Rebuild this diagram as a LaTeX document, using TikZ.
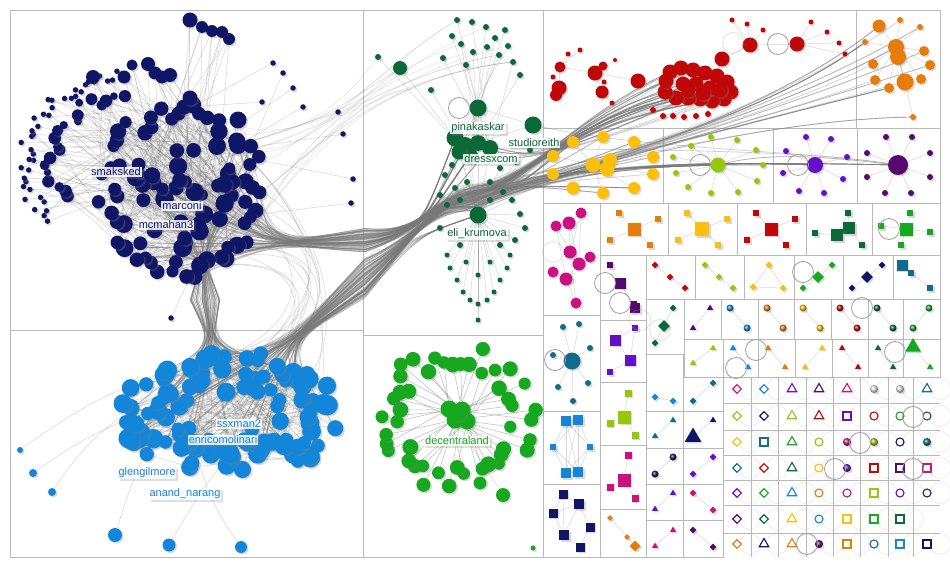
\documentclass[tikz,border=0pt]{standalone}
\usepackage{fontspec}
\setsansfont{Liberation Sans}
\usetikzlibrary{shapes.geometric,shadows}

\definecolor{cnavy}{RGB}{16,22,102}
\definecolor{cblue}{RGB}{20,134,218}
\definecolor{cdkgreen}{RGB}{10,105,55}
\definecolor{cgreen}{RGB}{22,168,30}
\definecolor{cred}{RGB}{192,8,8}
\definecolor{corange}{RGB}{230,125,10}
\definecolor{cyellow}{RGB}{252,192,12}
\definecolor{clime}{RGB}{150,200,10}
\definecolor{cpurple}{RGB}{100,16,200}
\definecolor{cdkpurple}{RGB}{86,8,110}
\definecolor{cmagenta}{RGB}{204,16,130}
\definecolor{cteal}{RGB}{16,108,138}
\definecolor{cedge}{RGB}{120,120,120}

\pgfdeclarelayer{back}
\pgfdeclarelayer{lines}
\pgfsetlayers{back,lines,main}

\tikzset{
  shd/.style={drop shadow={shadow xshift=1.5pt,shadow yshift=-1.5pt,opacity=0.3}},
  dot/.style={circle,fill=#1,inner sep=0pt,shd},
  sqr/.style={rectangle,fill=#1,inner sep=0pt,shd},
  dia/.style={diamond,fill=#1,inner sep=0pt,shd},
  tri/.style={regular polygon,regular polygon sides=3,fill=#1,inner sep=0pt,shd},
  sph/.style={circle,ball color=#1,inner sep=0pt,minimum size=8pt,shd},
  odia/.style={diamond,draw=#1,fill=white,line width=1.1pt,inner sep=0pt,minimum size=9pt},
  otri/.style={regular polygon,regular polygon sides=3,draw=#1,fill=white,line width=1.1pt,inner sep=0pt,minimum size=11pt},
  ocir/.style={circle,draw=#1,fill=white,line width=1.1pt,inner sep=0pt,minimum size=8pt},
  osq/.style={rectangle,draw=#1,fill=white,line width=1.1pt,inner sep=0pt,minimum size=8pt},
  lnk/.style={draw=cedge,opacity=0.3,line width=0.5pt},
  bnd/.style={draw=cedge,opacity=0.35,line width=0.7pt},
  selfloop/.style={circle,draw=gray!75,line width=0.8pt,inner sep=0pt,minimum size=21pt},
  panel/.style={draw=gray!55,line width=0.8pt},
  lbl/.style={text=#1,fill=white,fill opacity=0.85,text opacity=1,inner sep=1pt,
    font=\sffamily\fontsize{11}{12}\selectfont,
    drop shadow={shadow xshift=2pt,shadow yshift=-2pt,opacity=0.25}},
}

\begin{document}
\begin{tikzpicture}[x=1pt,y=-1pt]
\useasboundingbox (0,0) rectangle (950,567);
\pgfmathsetseed{31}

\begin{pgfonlayer}{back}
\fill[white] (0,0) rectangle (950,567);
\foreach \xa/\ya/\xb/\yb in {10/10/363/330,10/330/363/557,363/10/543/335,363/335/543/557,
  543/10/856/128,856/10/940/128,543/128/663/203,663/128/773/203,773/128/857/203,857/128/940/203,
  543/203/600/315,600/203/668/255,668/203/737/255,737/203/806/255,806/203/872/255,872/203/940/255,
  600/255/646/320,646/255/695/299,695/255/744/299,744/255/794/299,794/255/843/299,843/255/893/299,893/255/940/299,
  646/299/684/354,684/299/721/339,721/299/758/339,758/299/794/339,794/299/831/339,831/299/868/339,868/299/903/339,903/299/940/339,
  684/339/723/377,723/339/758/377,758/339/795/377,795/339/832/377,832/339/868/377,868/339/903/377,903/339/940/377,
  543/315/600/411,543/411/600/484,543/484/600/557,600/320/646/382,600/382/646/445,600/445/646/509,600/509/646/557,
  646/354/683/411,646/411/683/448,646/448/683/484,646/484/683/520,646/520/683/557,
  683/377/723/411,683/411/723/448,683/448/723/484,683/484/723/520,683/520/723/557}
  \draw[panel] (\xa,\ya) rectangle (\xb,\yb);
\foreach \xx in {751,778,806,833,860,888,913}
  \draw[panel] (\xx,377) -- (\xx,557);
\foreach \yy in {403,430,455,480,505,533}
  \draw[panel] (723,\yy) -- (940,\yy);
\end{pgfonlayer}

% navy group
\foreach \i in {1,...,56}{
  \pgfmathsetmacro\ang{\i/56*360+6*rnd}
  \pgfmathsetmacro\rr{0.8+0.28*rnd}
  \pgfmathsetmacro\sz{12+6*rnd}
  \node[dot=cnavy,minimum size=\sz] (a\i) at ({182+80*\rr*cos(\ang)},{190+86*\rr*sin(\ang)}) {};
}
\foreach \i in {57,...,90}{
  \pgfmathsetmacro\ang{360*rnd}
  \pgfmathsetmacro\rr{0.68*sqrt(rnd)}
  \pgfmathsetmacro\sz{11+8*rnd}
  \node[dot=cnavy,minimum size=\sz] (a\i) at ({182+80*\rr*cos(\ang)},{190+86*\rr*sin(\ang)}) {};
}
\foreach \i in {1,...,40}{
  \pgfmathsetmacro\ang{140+\i*115/40+3*rnd}
  \pgfmathsetmacro\rr{0.88+0.14*rnd}
  \node[dot=cnavy,minimum size=5.5] (o\i) at ({145+125*\rr*cos(\ang)},{165+100*\rr*sin(\ang)}) {};
}
\foreach \i in {1,...,20}{
  \pgfmathsetmacro\ang{145+\i*110/20+4*rnd}
  \pgfmathsetmacro\rr{0.68+0.14*rnd}
  \pgfmathsetmacro\sz{7+6*rnd}
  \node[dot=cnavy,minimum size=\sz] (m\i) at ({145+125*\rr*cos(\ang)},{165+100*\rr*sin(\ang)}) {};
}
\foreach \px/\py/\sz [count=\k] in {190/20/15,202/27/12,212/31/12,222/32/12,229/39/12,148/64/14,155/73/13,
  162/77/13,170/75/14,132/65/11,124/77/13,93/77/14,190/98/15}
  \node[dot=cnavy,minimum size=\sz] (tp\k) at (\px,\py) {};
\foreach \px/\py [count=\k] in {273/63,283/73,293/88,303/107,262/102,338/112,343/134,353/179,351/203,171/318}
  \node[dot=cnavy,minimum size=5.5] (rs\k) at (\px,\py) {};

% blue group
\foreach \i in {1,...,125}{
  \pgfmathsetmacro\ang{360*rnd}
  \pgfmathsetmacro\rr{0.25+0.75*sqrt(rnd)}
  \pgfmathsetmacro\sz{13+7*rnd}
  \node[dot=cblue,minimum size=\sz] (b\i) at ({232+113*\rr*cos(\ang)},{414+63*\rr*sin(\ang)}) {};
}
\foreach \px/\py/\sz [count=\k] in {115/535/14,169/545/13,241/547/12,52/492/8,33/473/8,20/450/6}
  \node[dot=cblue,minimum size=\sz] (bx\k) at (\px,\py) {};

% dark green group
\foreach \px/\py [count=\k] in {457/20,472/22,486/27,452/36,461/44,473/52,487/47,499/55,508/46,513/62,
  378/57,431/90,520/75,466/65,495/38,443/58,505/30}
  \node[dot=cdkgreen,minimum size=6] (dt\k) at (\px,\py) {};
\foreach \px/\py/\sz [count=\k] in {478/108/17,455/138/17,465/146/18,478/143/16,490/148/16,470/156/16,
  459/152/15,533/125/17,400/68/14}
  \node[dot=cdkgreen,minimum size=\sz] (dc\k) at (\px,\py) {};
\node[dot=cdkgreen,minimum size=17] (e0) at (478,215) {};
\foreach \px/\py [count=\k] in {445/175,455/188,467/182,490/182,503/192,512/200,520/214,447/205,440/228,
  460/245,500/245,515/240,530/150,516/162,500/168,452/165,440/195,525/228,490/200,460/200}
  \node[dot=cdkgreen,minimum size=6] (de\k) at (\px,\py) {};
\foreach \px/\py [count=\k] in {450/268,457/280,463/292,470/300,478/304,487/300,494/292,500/280,507/268,
  447/255,510/255,478/275,466/262,490/262,478/320}
  \node[dot=cdkgreen,minimum size=5] (db\k) at (\px,\py) {};

% green group
\foreach \px/\py [count=\k] in {449/409,462/410,455/420,467/421,458/413}
  \node[dot=cgreen,minimum size=17] (g\k) at (\px,\py) {};
\foreach \i in {1,...,46}{
  \pgfmathsetmacro\ang{\i/46*360+4*rnd}
  \pgfmathsetmacro\rr{0.68+0.36*rnd}
  \pgfmathsetmacro\sz{12+4*rnd}
  \node[dot=cgreen,minimum size=\sz] (gr\i) at ({455+80*\rr*cos(\ang)},{418+72*\rr*sin(\ang)}) {};
}
\node[dot=cgreen,minimum size=14] (gx1) at (503,495) {};
\node[dot=cgreen,minimum size=5] (gx2) at (533,548) {};

% red group
\foreach \px/\py [count=\k] in {670/72,681/68,693/70,705/73,717/76,727/82,731/92,724/99,712/101,700/99,
  688/98,676/98,665/92,666/81,683/84,696/84,710/88,720/90,688/90,703/93}
  \node[dot=cred,minimum size=15] (r\k) at (\px,\py) {};
\foreach \px/\py [count=\k] in {653/110,663/116,673/116,684/117,696/116,708/114}
  \node[dot=cred,minimum size=6] (rb\k) at (\px,\py) {};
\node[dot=cred,minimum size=15] (r0) at (722,59) {};
\foreach \px/\py/\sz [count=\k] in {560/67/11,559/88/15,556/95/12,553/77/5,568/54/5,580/50/5,595/73/15,
  603/66/9,604/82/5,602/92/13,612/103/5,638/81/15,615/60/4}
  \node[dot=cred,minimum size=\sz] (rl\k) at (\px,\py) {};
\foreach \px/\py/\sz [count=\k] in {750/45/15,797/44/15,732/20/5,747/24/5,763/30/5,811/22/5,827/32/5,839/43/5,845/54/5}
  \node[dot=cred,minimum size=\sz] (rt\k) at (\px,\py) {};

% orange group
\foreach \px/\py/\sz [count=\k] in {896/47/16,898/57/16,879/26/13,900/20/6,920/27/6,865/42/6,924/51/10,
  930/65/10,873/64/10,875/80/10,905/82/17,921/79/10,889/88/10,913/117/6}
  \node[dot=corange,minimum size=\sz] (or\k) at (\px,\py) {};

% yellow group
\foreach \px/\py/\sz [count=\k] in {593/165/15,610/160/14,607/169/15,573/142/12,603/137/12,634/142/12,
  553/156/12,653/157/12,653/174/12,553/174/12,573/188/13,603/193/12,634/188/12}
  \node[dot=cyellow,minimum size=\sz] (y\k) at (\px,\py) {};

% lime, purple, dark purple stars
\node[dot=clime,minimum size=15] (l0) at (718,165) {};
\foreach \px/\py [count=\k] in {711/137,737/140,691/146,756/150,673/157,763/165,676/173,757/181,688/187,711/193,738/192}
  \node[dot=clime,minimum size=6] (l\k) at (\px,\py) {};
\node[dot=cpurple,minimum size=16] (p0) at (815,165) {};
\foreach \px/\py [count=\k] in {806/137,831/139,786/151,847/157,783/173,843/179,799/191,824/193}
  \node[dot=cpurple,minimum size=6] (p\k) at (\px,\py) {};
\node[dot=cdkpurple,minimum size=20] (q0) at (898,165) {};
\foreach \px/\py [count=\k] in {886/137,912/137,867/153,930/153,867/177,930/177,885/193,911/193}
  \node[dot=cdkpurple,minimum size=6] (q\k) at (\px,\py) {};

% small groups
\foreach \st/\cl/\px/\py/\sz [count=\k] in {
  sqr/corange/634/229/13,sqr/corange/619/213/6,sqr/corange/658/219/6,sqr/corange/610/240/6,sqr/corange/650/245/6,
  sqr/cyellow/702/229/14,sqr/cyellow/687/213/6,sqr/cyellow/727/219/6,sqr/cyellow/678/240/6,sqr/cyellow/718/245/6,
  sqr/cred/771/229/13,sqr/cred/756/213/6,sqr/cred/795/219/6,sqr/cred/747/240/6,sqr/cred/786/245/6,
  sqr/cdkgreen/848/213/6,sqr/cdkgreen/849/228/12,sqr/cdkgreen/837/235/12,sqr/cdkgreen/815/233/6,sqr/cdkgreen/862/245/6,
  sqr/cgreen/906/229/13,sqr/cgreen/910/213/6,sqr/cgreen/881/226/6,sqr/cgreen/930/232/6,sqr/cgreen/901/245/6,
  sqr/cdkpurple/610/265/6,sqr/cdkpurple/620/283/11,sqr/cdkpurple/633/304/7,sqr/cdkpurple/635/308/10,
  dia/cred/655/265/7,dia/cred/670/277/7,dia/cred/685/288/7,
  dia/clime/705/265/7,dia/clime/719/277/7,dia/clime/733/288/7,
  dia/cyellow/769/265/7,dia/cyellow/753/287/7,dia/cyellow/783/288/7,
  dia/cgreen/818/277/12,dia/cgreen/832/265/7,dia/cgreen/803/288/7,
  dia/cnavy/867/277/12,dia/cnavy/882/265/7,dia/cnavy/852/288/7,
  sqr/cteal/902/265/11,sqr/cteal/911/273/6,sqr/cteal/930/288/6,
  dia/cdkgreen/664/326/12,dia/cdkgreen/673/308/7,dia/cdkgreen/655/343/7,
  tri/cgreen/913/347/18,tri/cgreen/930/367/7,
  tri/cnavy/693/437/19,tri/cnavy/713/420/7,
  dia/corange/635/546/11,dia/corange/610/518/6,dia/corange/627/537/6,
  sqr/cpurple/635/328/6,sqr/cpurple/615/340/11,sqr/cpurple/630/360/11,sqr/cpurple/610/372/6,
  sqr/clime/628/393/7,sqr/clime/624/417/13,sqr/clime/610/423/7,sqr/clime/635/435/7,
  sqr/cmagenta/628/455/7,sqr/cmagenta/624/480/13,sqr/cmagenta/610/487/7,sqr/cmagenta/635/498/7,
  sqr/cblue/566/421/10,sqr/cblue/578/420/10,sqr/cblue/553/447/6,sqr/cblue/590/447/6,sqr/cblue/566/473/10,sqr/cblue/578/472/10,
  sqr/cnavy/563/494/9,sqr/cnavy/579/504/10,sqr/cnavy/553/513/9,sqr/cnavy/590/527/9,sqr/cnavy/564/535/10,sqr/cnavy/580/547/9,
  dot/cteal/572/361/17,dot/cteal/563/327/6,dot/cteal/579/324/6,dot/cteal/590/348/6,dot/cteal/553/355/6,dot/cteal/558/387/6,dot/cteal/588/383/6,dot/cteal/573/401/6,
  dot/cmagenta/581/213/11,dot/cmagenta/556/226/11,dot/cmagenta/569/223/13,dot/cmagenta/570/252/13,dot/cmagenta/590/257/11,
  dot/cmagenta/579/264/13,dot/cmagenta/553/272/11,dot/cmagenta/566/279/13,dot/cmagenta/576/303/11}
  \node[\st=\cl,minimum size=\sz] (u\k) at (\px,\py) {};

% pairs
\foreach \st/\cl/\xa/\ya/\xb/\yb [count=\k] in {
  tri/cdkpurple/710/308/693/328,sph/cblue/730/308/747/328,sph/corange/767/308/783/328,sph/cyellow/803/308/820/328,
  sph/cred/840/308/857/328,sph/cdkgreen/877/308/893/328,sph/cgreen/929/308/913/328,
  tri/clime/713/348/693/363,tri/cblue/733/348/748/367,tri/corange/768/348/785/367,tri/cyellow/822/348/805/367,
  tri/cred/842/348/858/367,tri/cdkgreen/878/348/893/367,
  dia/cblue/655/397/673/401,tri/cteal/673/420/655/436,sph/cnavy/673/457/655/474,tri/cpurple/673/493/655/509,
  tri/cmagenta/673/530/655/546,dia/cteal/713/383/693/401,dia/cpurple/713/457/693/474,dia/cmagenta/693/493/713/510,
  dia/cdkpurple/693/530/713/547}{
  \node[\st=\cl,minimum size=7] (pa\k) at (\xa,\ya) {};
  \node[\st=\cl,minimum size=7] (pb\k) at (\xb,\yb) {};
}

% single vertices in the grid
\foreach \row [count=\ri] in {
  {odia/cmagenta,odia/cblue,otri/cpurple,otri/cdkpurple,otri/cmagenta,sph/cblue!15,sph/cpurple!15,otri/cteal},
  {odia/clime,odia/cnavy,otri/clime,otri/cred,osq/cpurple,ocir/cred,ocir/cgreen,ocir/cdkgreen},
  {odia/cyellow,osq/cteal,otri/cgreen,ocir/clime,sph/cmagenta,sph/clime,ocir/cnavy,sph/cteal},
  {odia/cteal,odia/cred,otri/cdkgreen,ocir/cyellow,sph/cpurple,osq/cred,osq/cdkpurple,osq/cmagenta},
  {odia/cpurple,odia/cgreen,otri/cblue,ocir/corange,ocir/cmagenta,osq/clime,ocir/cpurple,ocir/cdkpurple},
  {odia/cdkpurple,odia/cdkgreen,otri/cyellow,ocir/cblue,osq/cyellow,osq/cgreen,osq/cdkgreen},
  {odia/corange,otri/cnavy,otri/corange,sph/cdkpurple,osq/corange,ocir/cteal,osq/cblue,osq/cnavy}}{
  \pgfmathsetmacro\py{{389,416,442,468,493,519,544}[\ri-1]}
  \foreach \st/\cl [count=\ci] in \row {
    \pgfmathsetmacro\px{{737,764,792,819,847,874,900,927}[\ci-1]}
    \node[\st=\cl] (cell\ri-\ci) at (\px,\py) {};
    \node[selfloop,opacity=0.18] (cl\ri-\ci) at ({\px+13},\py) {};
  }
}

% self loops
\foreach \px/\py [count=\k] in {459/108,778/44,700/165,798/165,889/229,605/283,620/303,803/272,862/308,
  756/350,736/368,555/360,895/352,913/417,860/443,835/469,913/469,807/544}
  \node[selfloop] (sl\k) at (\px,\py) {};
\foreach \px/\py [count=\k] in {733/43,553/252,640/320,660/330,380/260}
  \node[selfloop,opacity=0.3] (sf\k) at (\px,\py) {};

\begin{pgfonlayer}{lines}
% navy links
\foreach \i in {1,...,90}{
  \pgfmathtruncatemacro\jj{mod(\i+random(1,89)-1,90)+1}
  \pgfmathtruncatemacro\kk{mod(\i+random(1,89)-1,90)+1}
  \pgfmathtruncatemacro\mm{mod(\i+random(1,89)-1,90)+1}
  \draw[lnk] (a\i) -- (a\jj) (a\i) -- (a\kk) (a\i) -- (a\mm);
}
\foreach \i in {1,...,40}{
  \pgfmathtruncatemacro\jj{random(1,90)}
  \draw[lnk] (o\i) -- (a\jj);
}
\foreach \i in {1,...,20}{
  \pgfmathtruncatemacro\jj{random(1,90)}
  \pgfmathtruncatemacro\kk{random(1,90)}
  \draw[lnk] (m\i) -- (a\jj) (m\i) -- (a\kk);
}
\foreach \i in {1,...,13}{
  \foreach \q in {1,2,3}{
    \pgfmathtruncatemacro\jj{random(57,90)}
    \draw[lnk] (tp\i) -- (a\jj);
  }
}
\foreach \i in {1,...,10}{
  \pgfmathtruncatemacro\jj{random(1,90)}
  \draw[lnk] (rs\i) -- (a\jj);
}
\foreach \q in {1,...,14}{
  \pgfmathtruncatemacro\ii{random(1,56)}
  \pgfmathtruncatemacro\jj{random(1,17)}
  \draw[lnk,opacity=0.2] (a\ii) .. controls (300,170) and (360,80) .. (dt\jj);
}
\draw[lnk] (a5) .. controls (300,150) .. (dc9) (a50) .. controls (320,120) .. (dc9);
% blue links
\foreach \i in {1,...,125}{
  \pgfmathtruncatemacro\jj{mod(\i+random(1,124)-1,125)+1}
  \pgfmathtruncatemacro\kk{mod(\i+random(1,124)-1,125)+1}
  \draw[lnk] (b\i) -- (b\jj) (b\i) -- (b\kk);
}
\foreach \i in {1,...,6}{
  \pgfmathtruncatemacro\jj{random(1,125)}
  \draw[lnk] (bx\i) to[bend left=10] (b\jj);
}
% navy to blue
\foreach \q in {1,...,80}{
  \pgfmathtruncatemacro\ii{random(1,90)}
  \pgfmathtruncatemacro\jj{random(1,125)}
  \draw[bnd] (a\ii) .. controls (203,255) .. ({190+30*rnd},300) .. controls (212,345) .. (b\jj);
}
\foreach \q in {1,...,15}{
  \pgfmathtruncatemacro\ii{random(1,56)}
  \pgfmathtruncatemacro\jj{random(1,125)}
  \draw[lnk] (a\ii) .. controls (345,240) and (335,330) .. (b\jj);
}
% navy to the right
\foreach \q in {1,...,30}{
  \pgfmathtruncatemacro\ii{random(1,90)}
  \pgfmathtruncatemacro\jj{random(1,20)}
  \draw[bnd] (a\ii) .. controls (270,245) .. (365,{228+24*rnd}) .. controls (420,235) and (430,200) .. ({460+20*rnd},{185+25*rnd})
    .. controls (530,180) and (570,120) .. (r\jj);
}
\foreach \q in {1,...,16}{
  \pgfmathtruncatemacro\ii{random(1,90)}
  \pgfmathtruncatemacro\jj{random(1,13)}
  \draw[bnd] (a\ii) .. controls (270,245) .. (365,{228+24*rnd}) .. controls (420,235) and (430,200) .. ({460+20*rnd},{185+25*rnd})
    .. controls (520,185) .. (y\jj);
}
\foreach \q in {1,...,16}{
  \pgfmathtruncatemacro\ii{random(1,90)}
  \pgfmathtruncatemacro\jj{random(1,14)}
  \draw[bnd] (a\ii) .. controls (270,245) .. (365,{228+24*rnd}) .. controls (420,235) and (430,200) .. ({460+20*rnd},{185+25*rnd})
    .. controls (570,170) and (760,120) .. (or\jj);
}
\foreach \q in {1,...,20}{
  \pgfmathtruncatemacro\ii{random(1,90)}
  \pgfmathtruncatemacro\jj{random(2,7)}
  \draw[bnd] (a\ii) .. controls (270,245) .. (365,{228+24*rnd}) .. controls (420,230) .. (dc\jj);
}
\foreach \q in {1,...,8}{
  \pgfmathtruncatemacro\ii{random(1,90)}
  \draw[bnd] (a\ii) .. controls (270,245) .. (365,{228+24*rnd}) .. controls (420,235) and (430,200) .. ({460+20*rnd},{185+25*rnd})
    .. controls (570,170) and (650,160) .. (q0);
  \draw[bnd] (a\ii) .. controls (270,245) .. (365,{228+24*rnd}) .. controls (420,235) and (430,200) .. ({460+20*rnd},{185+25*rnd})
    .. controls (570,170) .. (l0);
}
% blue to the right
\foreach \q in {1,...,30}{
  \pgfmathtruncatemacro\ii{random(1,125)}
  \pgfmathtruncatemacro\jj{random(1,20)}
  \draw[bnd] (b\ii) .. controls (285,345) .. (365,{258+40*rnd}) .. controls (410,240) and (430,210) .. ({460+20*rnd},{188+25*rnd})
    .. controls (530,180) and (570,120) .. (r\jj);
}
\foreach \q in {1,...,16}{
  \pgfmathtruncatemacro\ii{random(1,125)}
  \pgfmathtruncatemacro\jj{random(1,13)}
  \draw[bnd] (b\ii) .. controls (285,345) .. (365,{258+40*rnd}) .. controls (410,240) and (430,210) .. ({460+20*rnd},{188+25*rnd})
    .. controls (520,185) .. (y\jj);
}
\foreach \q in {1,...,14}{
  \pgfmathtruncatemacro\ii{random(1,125)}
  \pgfmathtruncatemacro\jj{random(1,14)}
  \draw[bnd] (b\ii) .. controls (285,345) .. (365,{258+40*rnd}) .. controls (410,240) and (430,210) .. ({460+20*rnd},{188+25*rnd})
    .. controls (570,170) and (760,120) .. (or\jj);
}
\foreach \q in {1,...,20}{
  \pgfmathtruncatemacro\ii{random(1,125)}
  \pgfmathtruncatemacro\jj{random(2,7)}
  \draw[bnd] (b\ii) .. controls (285,345) .. (365,{258+40*rnd}) .. controls (420,230) .. (dc\jj);
}
\foreach \q in {1,...,10}{
  \pgfmathtruncatemacro\ii{random(1,125)}
  \draw[bnd] (b\ii) .. controls (285,345) .. (365,{258+40*rnd}) .. controls (420,235) .. (e0);
  \draw[bnd] (b\ii) .. controls (285,345) .. (365,{258+40*rnd}) .. controls (410,240) and (430,210) .. ({460+20*rnd},{188+25*rnd})
    .. controls (570,170) and (650,160) .. (p0);
}
% dark green links
\foreach \i in {1,...,17}{
  \pgfmathtruncatemacro\jj{random(1,7)}
  \draw[lnk] (dt\i) -- (dc\jj);
}
\foreach \i in {2,...,7}{
  \draw[lnk] (dc\i) -- (e0) (dc\i) -- (dc1);
}
\draw[lnk] (dc8) -- (dc4) (dc9) -- (dc2) (dc8) -- (dc1);
\foreach \i in {1,...,20} \draw[lnk] (de\i) -- (e0);
\foreach \i in {1,...,15} \draw[lnk] (db\i) -- (e0);
\foreach \q in {1,...,12}{
  \pgfmathtruncatemacro\ii{random(2,7)}
  \pgfmathtruncatemacro\jj{random(1,20)}
  \draw[bnd] (dc\ii) .. controls (540,160) .. (r\jj);
}
\draw[bnd] (dc8) .. controls (650,150) and (800,150) .. (q0);
\draw[bnd] (dc5) .. controls (650,150) and (800,150) .. (q0);
% green links
\foreach \i in {1,...,46}{
  \pgfmathtruncatemacro\jj{random(1,5)}
  \draw[lnk,opacity=0.5] (gr\i) -- (g\jj);
}
\draw[lnk] (gx1) -- (g3) (g1) -- (g2) (g3) -- (g4);
% red links
\foreach \i in {1,...,20}{
  \pgfmathtruncatemacro\jj{mod(\i+random(1,19)-1,20)+1}
  \draw[lnk] (r\i) -- (r\jj);
}
\foreach \i in {1,...,6}{
  \pgfmathtruncatemacro\jj{random(1,20)}
  \draw[lnk] (rb\i) -- (r\jj);
}
\draw[lnk] (r0) -- (r5) (r0) -- (r17) (rl12) -- (r14) (rl12) -- (r13) (rl12) -- (rl7)
  (rl1) -- (rl7) (rl8) -- (rl7) (rl9) -- (rl7) (rl10) -- (rl7) (rl11) -- (rl10) (rl13) -- (rl7)
  (rl2) -- (rl1) (rl3) -- (rl2) (rl4) -- (rl1) (rl5) -- (rl1) (rl6) -- (rl1)
  (rt1) -- (rt3) (rt1) -- (rt4) (rt1) -- (rt5) (rt1) -- (rt2) (rt2) -- (rt6) (rt2) -- (rt7)
  (rt2) -- (rt8) (rt2) -- (rt9) (rt1) -- (r0);
% orange, yellow, stars
\foreach \i in {3,...,14} \draw[lnk] (or1) -- (or\i);
\draw[lnk] (or2) -- (or11) (or1) -- (or2);
\foreach \i in {4,...,13} \draw[lnk] (y1) -- (y\i);
\draw[lnk] (y1) -- (y2) (y2) -- (y3);
\foreach \i in {1,...,11} \draw[lnk] (l0) -- (l\i);
\foreach \i in {1,...,8} \draw[lnk] (p0) -- (p\i) (q0) -- (q\i);
\draw[bnd,opacity=0.6] (l0) .. controls (780,150) and (850,160) .. (q0);
% small groups
\foreach \ea/\eb in {1/2,1/3,1/4,1/5,6/7,6/8,6/9,6/10,11/12,11/13,11/14,11/15,16/17,17/18,18/19,17/20,16/18,
  21/22,21/23,21/24,21/25,26/27,27/28,27/29,30/31,31/32,33/34,34/35,36/37,37/38,36/38,39/40,39/41,42/43,42/44,
  45/46,46/47,48/49,48/50,51/52,53/54,56/57,57/55,58/59,59/60,60/61,58/60,62/63,63/64,63/65,66/67,67/68,67/69,
  70/71,70/72,70/73,70/74,70/75,71/72,71/73,71/74,71/75,72/74,73/75,74/75,72/75,73/74,
  76/77,76/78,77/79,77/80,78/80,79/81,80/81,76/80,77/78,
  82/83,82/84,82/85,82/86,82/87,82/88,82/89,
  90/93,91/93,92/93,93/95,94/95,95/97,96/97,97/98,92/95,90/95,91/97,93/98}
  \draw[lnk] (u\ea) -- (u\eb);
\foreach \k in {1,...,22} \draw[lnk] (pa\k) -- (pb\k);
\end{pgfonlayer}

% labels
\node[lbl=cnavy] (la1) at (116,172) {smaksked};
\node[lbl=cnavy] (la2) at (182,206) {marconi};
\node[lbl=cnavy] (la3) at (166,225) {mcmahan3};
\node[lbl=cblue] (lb1) at (239,424) {ssxman2};
\node[lbl=cblue] (lb2) at (223,440) {enricomolinari};
\node[lbl=cblue] (lb3) at (147,473) {glengilmore};
\node[lbl=cblue] (lb4) at (185,494) {anand\_narang};
\node[lbl=cdkgreen] (lc1) at (478,128) {pinakaskar};
\node[lbl=cdkgreen] (lc2) at (534,143) {studioreith};
\node[lbl=cdkgreen] (lc3) at (491,159) {dressxcom};
\node[lbl=cdkgreen] (lc4) at (477,234) {eli\_krumova};
\node[lbl=cgreen] (ld1) at (457,441) {decentraland};
\end{tikzpicture}
\end{document}
